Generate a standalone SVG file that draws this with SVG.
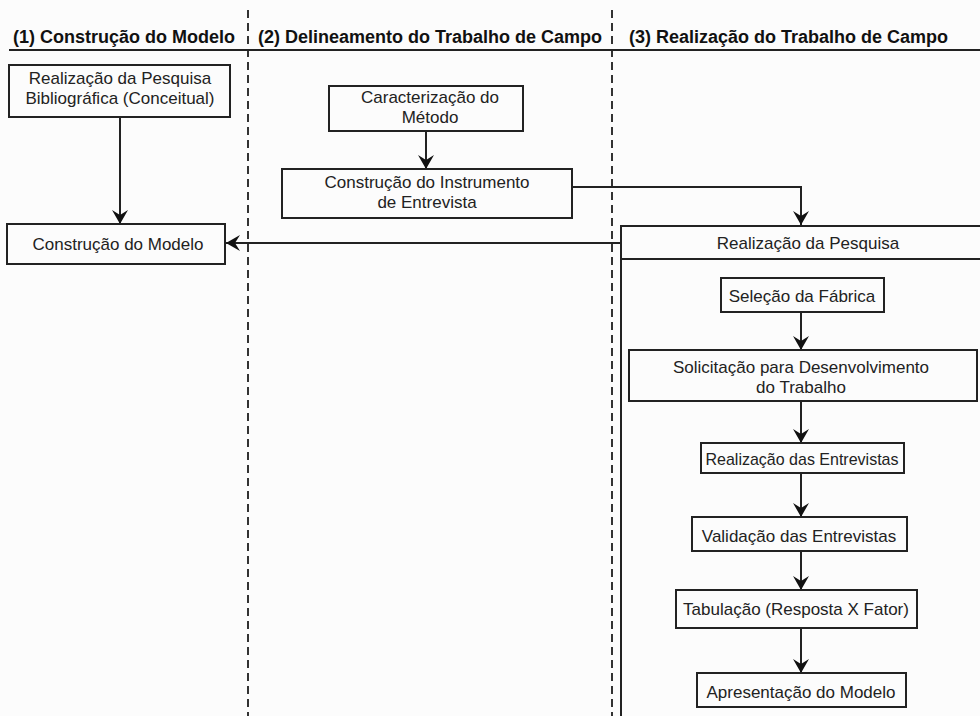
<svg xmlns="http://www.w3.org/2000/svg" width="980" height="716" viewBox="0 0 980 716">
<defs>
<style>
.bg{fill:#fcfcfc}
.box{fill:none;stroke:#222;stroke-width:2}
.ln{fill:none;stroke:#222;stroke-width:2}
.dash{fill:none;stroke:#333;stroke-width:2;stroke-dasharray:8 5}
.t{font-family:"Liberation Sans",Arial,sans-serif;font-size:17px;fill:#222;text-anchor:middle}
.h{font-family:"Liberation Sans",Arial,sans-serif;font-size:18px;font-weight:bold;fill:#111}
.c{fill:none;stroke:#222;stroke-width:2;marker-end:url(#ah)}
</style>
<marker id="ah" markerUnits="userSpaceOnUse" markerWidth="20" markerHeight="20" refX="0" refY="0" viewBox="-16 -10 18 20" orient="auto">
<path d="M-14,-8 L0,0 L-14,8 L-9,0 Z" fill="#111"/>
</marker>
</defs>
<rect class="bg" x="0" y="0" width="980" height="716"/>
<g id="lanes">
<line class="dash" x1="248" y1="10" x2="248" y2="716"/>
<line class="dash" x1="612" y1="10" x2="612" y2="716"/>
<line class="ln" x1="9" y1="50" x2="980" y2="50"/>
<text class="h" x="13" y="43">(1) Construção do Modelo</text>
<text class="h" x="258" y="43">(2) Delineamento do Trabalho de Campo</text>
<text class="h" x="629" y="43">(3) Realização do Trabalho de Campo</text>
</g>
<g id="connectors">
<line class="c" x1="120" y1="117" x2="120" y2="224"/>
<line class="c" x1="426" y1="131" x2="426" y2="169"/>
<polyline class="c" points="572,187 801,187 801,225"/>
<line class="c" x1="621" y1="243" x2="226" y2="243"/>
<line class="c" x1="801" y1="312" x2="801" y2="350"/>
<line class="c" x1="801" y1="401" x2="801" y2="443"/>
<line class="c" x1="801" y1="473" x2="801" y2="517"/>
<line class="c" x1="801" y1="551" x2="801" y2="590"/>
<line class="c" x1="801" y1="628" x2="801" y2="673"/>
</g>
<g id="n-pesq-bib">
<rect class="box" x="9" y="65" width="221" height="52"/>
<text class="t" x="120" y="84">Realização da Pesquisa</text>
<text class="t" x="120" y="104">Bibliográfica (Conceitual)</text>
</g>
<g id="n-constr-modelo">
<rect class="box" x="7" y="224" width="218" height="40"/>
<text class="t" x="118" y="250">Construção do Modelo</text>
</g>
<g id="n-caract">
<rect class="box" x="329" y="86" width="194" height="45"/>
<text class="t" x="430" y="103">Caracterização do</text>
<text class="t" x="430" y="123">Método</text>
</g>
<g id="n-instr">
<rect class="box" x="282" y="169" width="290" height="49"/>
<text class="t" x="427" y="188">Construção do Instrumento</text>
<text class="t" x="427" y="208">de Entrevista</text>
</g>
<g id="n-realiz-pesq">
<polyline class="ln" points="980,226 621,226 621,716"/>
<line class="ln" x1="621" y1="259" x2="980" y2="259"/>
<text class="t" x="808" y="249">Realização da Pesquisa</text>
</g>
<g id="n-selecao">
<rect class="box" x="721" y="278" width="163" height="34"/>
<text class="t" x="802" y="302">Seleção da Fábrica</text>
</g>
<g id="n-solic">
<rect class="box" x="629" y="350" width="348" height="51"/>
<text class="t" x="801" y="373">Solicitação para Desenvolvimento</text>
<text class="t" x="801" y="393">do Trabalho</text>
</g>
<g id="n-entrev">
<rect class="box" x="701" y="443" width="203" height="30"/>
<text class="t" x="802" y="465" textLength="193" lengthAdjust="spacingAndGlyphs">Realização das Entrevistas</text>
</g>
<g id="n-valid">
<rect class="box" x="692" y="517" width="215" height="34"/>
<text class="t" x="799" y="542">Validação das Entrevistas</text>
</g>
<g id="n-tab">
<rect class="box" x="676" y="590" width="241" height="38"/>
<text class="t" x="796" y="615">Tabulação (Resposta X Fator)</text>
</g>
<g id="n-apres">
<rect class="box" x="697" y="673" width="209" height="34"/>
<text class="t" x="801" y="698">Apresentação do Modelo</text>
</g>
</svg>
